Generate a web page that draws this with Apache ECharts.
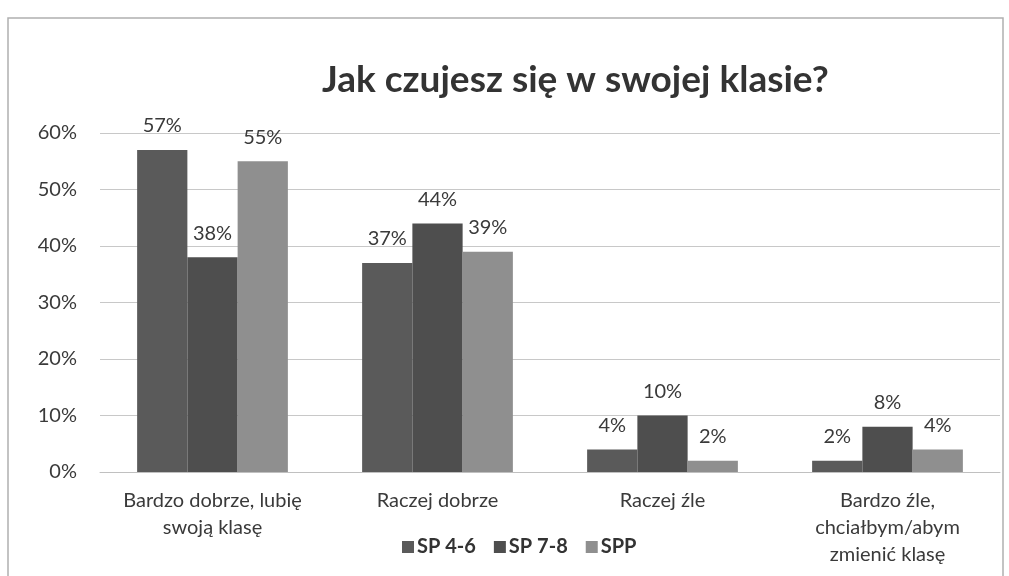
<!DOCTYPE html>
<html>
<head>
<meta charset="utf-8">
<script src="https://cdn.jsdelivr.net/npm/echarts@6/dist/echarts.min.js"></script>
<style>
  html, body { margin: 0; padding: 0; background: #fff; }
  #main { width: 1009px; height: 576px; }
</style>
</head>
<body>
<div id="main"></div>
<script>
// dane z wykresu
var categories = ['Bardzo dobrze, lubię\nswoją klasę', 'Raczej dobrze', 'Raczej źle', 'Bardzo źle,\nchciałbym/abym\nzmienić klasę'];
var seriesNames = ['SP 4-6', 'SP 7-8', 'SPP'];
var sp46 = [57, 37, 4, 2];
var sp78 = [38, 44, 10, 8];
var spp = [55, 39, 2, 4];
var yTicks = [0, 10, 20, 30, 40, 50, 60];
var colors = ['#5a5a5a', '#4e4e4e', '#8f8f8f'];

var myChart = echarts.init(document.getElementById('main'));

var font = 'Lato, "Noto Sans", sans-serif';

function barSeries(name, data, color) {
  return {
    name: name,
    type: 'bar',
    data: data,
    barGap: 0,
    barCategoryGap: '33%',
    itemStyle: { color: color },
    label: {
      show: true,
      position: 'top',
      distance: 14,
      fontFamily: font,
      fontSize: 20,
      color: '#3a3a3a',
      formatter: function (p) { return Math.round(p.value) + '%'; }
    }
  };
}

var option = {
  backgroundColor: '#fff',
  animation: false,
  title: {
    text: 'Jak czujesz się w swojej klasie?',
    left: 317,
    top: 57,
    textStyle: { fontFamily: font, fontSize: 37, fontWeight: 'bold', color: '#333' }
  },
  graphic: [{
    type: 'rect',
    shape: { x: 8, y: 18, width: 995, height: 620 },
    style: { fill: 'none', stroke: '#b0b0b0', lineWidth: 1.5 },
    silent: true
  }],
  legend: {
    data: seriesNames,
    top: 532,
    left: 397,
    itemWidth: 12,
    itemHeight: 12,
    itemGap: 18,
    icon: 'rect',
    textStyle: { fontFamily: font, fontSize: 20, fontWeight: 'bold', color: '#333', padding: [0, 0, 0, -2] }
  },
  grid: { left: 100, right: 9, top: 133, bottom: 104 },
  xAxis: {
    type: 'category',
    data: categories,
    axisLine: { show: true, lineStyle: { color: '#c0c0c0', width: 1 } },
    axisTick: { show: false },
    axisLabel: {
      margin: 15,
      fontFamily: font,
      fontSize: 20,
      lineHeight: 27,
      color: '#3a3a3a',
      interval: 0
    }
  },
  yAxis: {
    type: 'value',
    min: yTicks[0],
    max: yTicks[yTicks.length - 1],
    interval: 10,
    axisLine: { show: false },
    axisTick: { show: false },
    splitLine: { lineStyle: { color: '#c8c8c8', width: 1 } },
    axisLabel: {
      margin: 23,
      fontFamily: font,
      fontSize: 20,
      color: '#3a3a3a',
      formatter: '{value}%'
    }
  },
  series: [
    barSeries(seriesNames[0], sp46, colors[0]),
    barSeries(seriesNames[1], sp78, colors[1]),
    barSeries(seriesNames[2], spp, colors[2])
  ]
};

myChart.setOption(option);
</script>
</body>
</html>
